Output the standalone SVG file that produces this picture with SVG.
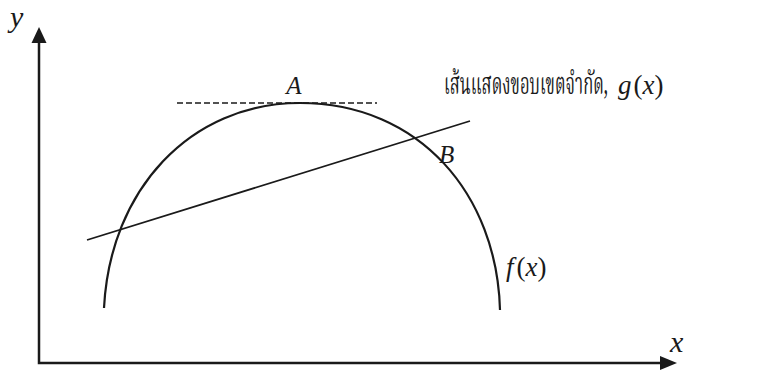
<svg xmlns="http://www.w3.org/2000/svg" width="767" height="377" viewBox="0 0 767 377">
<style>
.ax{stroke:#1a1a1a;stroke-width:2.5;fill:none}
.cv{stroke:#1a1a1a;stroke-width:2.2;fill:none}
.ln{stroke:#1a1a1a;stroke-width:1.8;fill:none}
.ds{stroke:#1a1a1a;stroke-width:1.7;fill:none;stroke-dasharray:6 3}
.m{font-family:'Liberation Serif',serif;font-style:italic;fill:#1a1a1a}
.r{font-style:normal}
.th{font-family:'Noto Serif Thai','Noto Sans Thai','Liberation Serif',serif;fill:#1a1a1a}
</style>
<rect width="767" height="377" fill="#ffffff"/>
<g id="axes">
<path class="ax" d="M39,40 L39,363 L662,363"/>
<polygon points="39,27 31.5,43 46.5,43" fill="#1a1a1a"/>
<polygon points="677,363 660,356 660,370" fill="#1a1a1a"/>
<text class="m" x="10" y="27" font-size="30">y</text>
<text class="m" x="670" y="352" font-size="30">x</text>
</g>
<g id="curve-f">
<path class="cv" d="M104,308 C110,190 190,103 300,103 C420,103 497,195 500,310"/>
<text class="m" x="506" y="276" font-size="27">f<tspan class="r" dx="3">(</tspan><tspan>x</tspan><tspan class="r">)</tspan></text>
</g>
<g id="tangent-A">
<path class="ds" d="M177,103 L377,103"/>
<text class="m" x="294" y="94" font-size="25" text-anchor="middle">A</text>
</g>
<g id="line-g">
<path class="ln" d="M87,240 L470,121"/>
<text class="m" x="439" y="163" font-size="25">B</text>
<text class="th" x="444" y="94" font-size="30" textLength="164" lengthAdjust="spacingAndGlyphs">เส้นแสดงขอบเขตจำกัด,</text>
<text class="m" x="618" y="94" font-size="27">g<tspan class="r" dx="2">(</tspan><tspan>x</tspan><tspan class="r">)</tspan></text>
</g>
</svg>
